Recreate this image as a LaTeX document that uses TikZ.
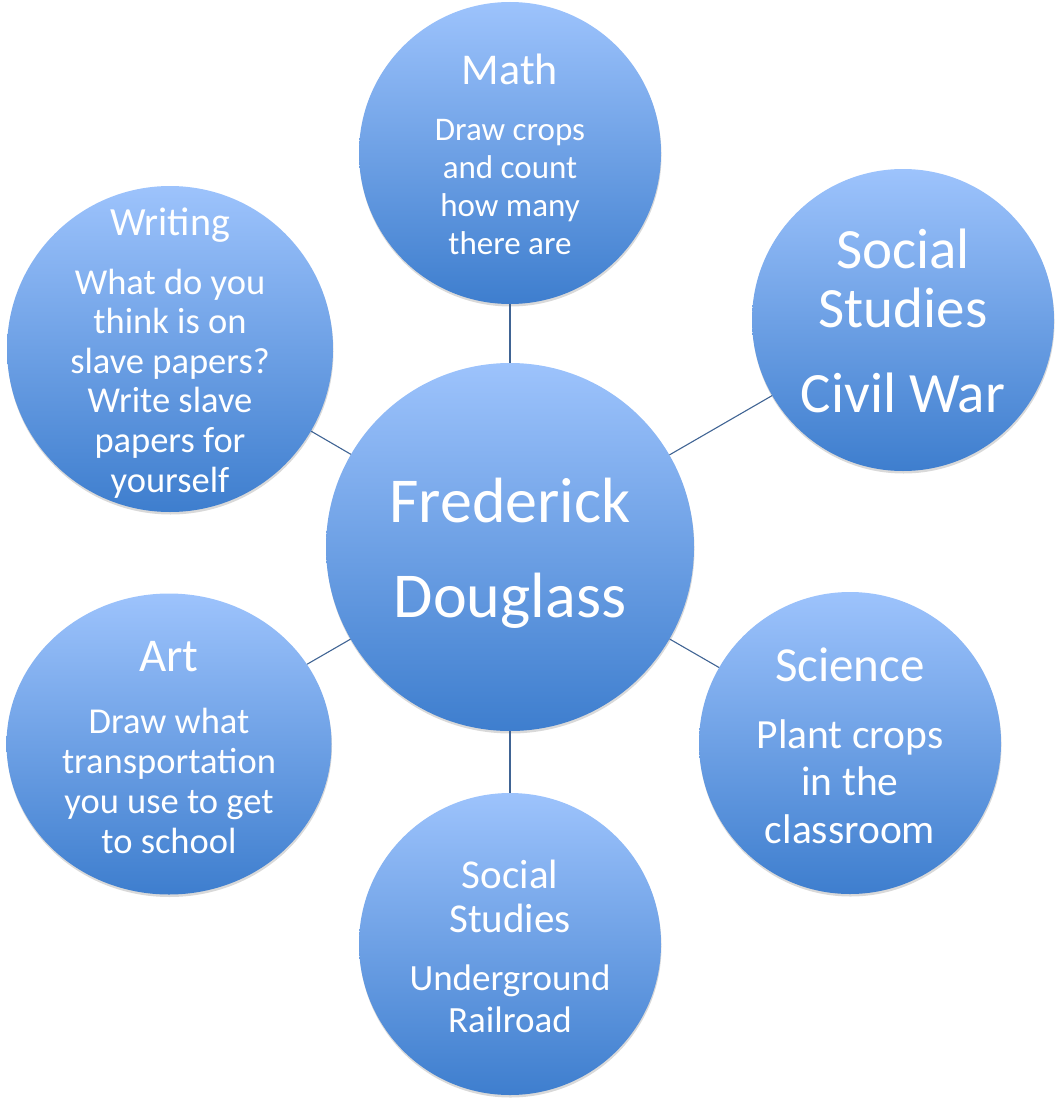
\documentclass[tikz,border=0pt]{standalone}
\usepackage{fontspec}
\setmainfont{Carlito}
\usetikzlibrary{shapes.geometric,shadows}

\definecolor{balltop}{RGB}{157,195,252}
\definecolor{ballbot}{RGB}{62,126,206}
\definecolor{linkcol}{RGB}{64,100,148}

\newcommand{\fs}[2]{\fontsize{#1}{#2}\selectfont}

\tikzset{
    ball/.style={shape=circle, draw=none, inner sep=0pt, top color=balltop, bottom color=ballbot,
        drop shadow={shadow xshift=0.5pt, shadow yshift=-2.5pt, opacity=0.3}},
    words/.style={text=white, inner sep=0pt, align=flush center, text width=320pt, anchor=base},
    link/.style={draw=linkcol, line width=1.1pt}
}

\begin{document}
\begin{tikzpicture}[x=1pt,y=-1pt]
    \useasboundingbox (0,0) rectangle (1059,1105);

    \node[ball, minimum size=368pt] (FD) at (510,547) {};
    \node[ball, minimum size=302pt] (MA) at (510,153) {};
    \node[ball, minimum size=302pt] (CW) at (903,320) {};
    \node[ball, minimum size=302pt] (SC) at (850,743) {};
    \node[ball, minimum size=302pt] (UR) at (510,944) {};
    \node[ball, shape=ellipse, minimum width=325pt, minimum height=301pt] (AR) at (169,744) {};
    \node[ball, minimum size=326pt] (WR) at (170,349) {};

    \path [-,link] (FD) edge (MA);
    \path [-,link] (FD) edge (CW);
    \path [-,link] (FD) edge (SC);
    \path [-,link] (FD) edge (UR);
    \path [-,link] (FD) edge (AR);
    \path [-,link] (FD) edge (WR);

    \node[words, font=\fs{64}{95}] (FDt) at (510,522) {Frederick\\Douglass};

    \node[words, font=\fs{44}{44}] (MAt) at (510,85) {Math};
    \node[words, font=\fs{33}{38.3}] (MAb) at (510,140) {Draw crops\\and count\\how many\\there are};

    \node[words, font=\fs{57}{59}] (CWt) at (903,268) {Social\\Studies};
    \node[words, font=\fs{57}{59}] (CWb) at (903,412) {Civil War};

    \node[words, font=\fs{49}{49}] (SCt) at (850,681) {Science};
    \node[words, font=\fs{41.5}{47.5}] (SCb) at (850,748) {Plant crops\\in the\\classroom};

    \node[words, font=\fs{41}{44}] (URt) at (510,888) {Social\\Studies};
    \node[words, font=\fs{37}{42}] (URb) at (510,990) {Underground\\Railroad};

    \node[words, font=\fs{47}{47}] (ARt) at (169,671) {Art};
    \node[words, font=\fs{36.5}{40}] (ARb) at (169,733) {Draw what\\transportation\\you use to get\\to school};

    \node[words, font=\fs{40}{40}] (WRt) at (170,235) {Writing};
    \node[words, font=\fs{36.5}{39.6}] (WRb) at (170,294) {What do you\\think is on\\slave papers?\\Write slave\\papers for\\yourself};

\end{tikzpicture}
\end{document}
